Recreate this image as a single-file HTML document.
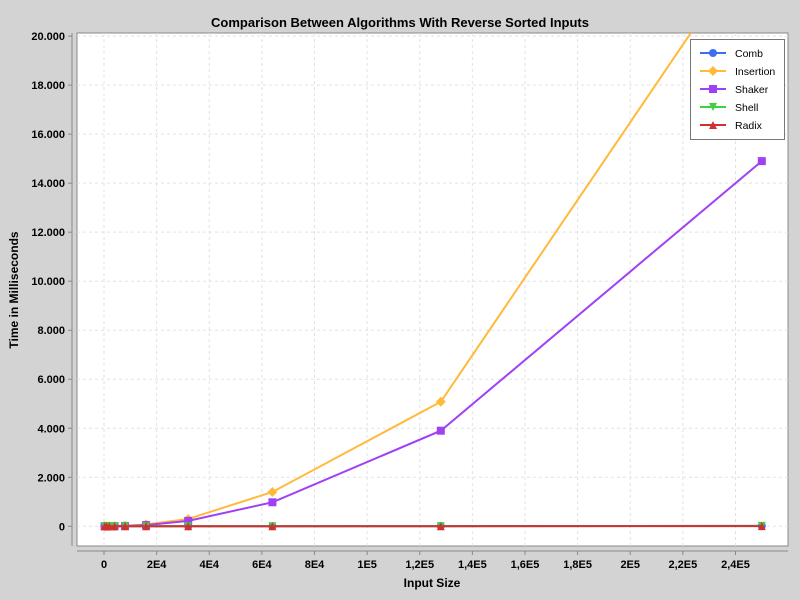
<!DOCTYPE html>
<html><head><meta charset="utf-8"><style>
body{margin:0;background:#d3d3d3;}
svg{display:block;font-family:"Liberation Sans",sans-serif;}
</style></head><body>
<svg id="c" width="800" height="600">
<rect x="0" y="0" width="800" height="600" fill="#d3d3d3"/>
<text x="400" y="27" text-anchor="middle" font-size="13" font-weight="bold">Comparison Between Algorithms With Reverse Sorted Inputs</text>
<rect x="77" y="33" width="711" height="513" fill="#fff" stroke="#888"/>
<defs><clipPath id="clip"><rect x="77" y="33" width="711" height="513"/></clipPath></defs>
<g id="grid"></g>
<g id="axes"></g>
<g id="series" clip-path="url(#clip)"></g>
<text x="432" y="587" text-anchor="middle" font-size="12" font-weight="bold">Input Size</text>
<text transform="translate(18,290) rotate(-90)" text-anchor="middle" font-size="12" font-weight="bold">Time in Milliseconds</text>
<g id="legend"></g>
</svg>
<script>
const xs = [250,1000,2000,4000,8000,16000,32000,64000,128000,250000];
const names = ["Comb","Insertion","Shaker","Shell","Radix"];
const comb = [0,0,0,0,0,1,2,4,8,15];
const insertion = [0,0,0,5,20,80,300,1400,5080,24400];
const shaker = [0,0,0,4,15,50,220,980,3900,14900];
const shell = [0,0,0,0,1,1,2,4,8,15];
const radix = [0,0,0,0,0,1,1,2,4,8];
const xTicks = [0,20000,40000,60000,80000,100000,120000,140000,160000,180000,200000,220000,240000];
const xTickLabels = ["0","2E4","4E4","6E4","8E4","1E5","1,2E5","1,4E5","1,6E5","1,8E5","2E5","2,2E5","2,4E5"];
const yTicks = [0,2000,4000,6000,8000,10000,12000,14000,16000,18000,20000];
const yTickLabels = ["0","2.000","4.000","6.000","8.000","10.000","12.000","14.000","16.000","18.000","20.000"];
const colors = ["#3d6cf5","#ffba3a","#a040f5","#40d040","#d03030"];
const shapes = ["circle","diamond","square","down","up"];
const X = v => 104 + v*0.0026312;
const Y = v => 526.3 - v*0.02451;
const NS="http://www.w3.org/2000/svg";
function mk(tag, attrs, parent){const e=document.createElementNS(NS,tag);for(const k in attrs)e.setAttribute(k,attrs[k]);parent.appendChild(e);return e;}
const grid=document.getElementById('grid'), axes=document.getElementById('axes'), ser=document.getElementById('series'), leg=document.getElementById('legend');
mk('line',{x1:72,y1:33,x2:72,y2:546,stroke:'#888'},axes);
mk('line',{x1:77,y1:551,x2:788,y2:551,stroke:'#888'},axes);
xTicks.forEach((t,i)=>{
  const g=mk('line',{x1:X(t),y1:33,x2:X(t),y2:546,stroke:'#e2e2e2','stroke-dasharray':'3,3'},grid);
  
  
  mk('line',{x1:X(t),y1:551,x2:X(t),y2:555,stroke:'#888'},axes);
  const tx=mk('text',{x:X(t),y:568,'text-anchor':'middle','font-size':'11','font-weight':'bold'},axes);
  tx.textContent=xTickLabels[i];
  
  
});
yTicks.forEach((t,i)=>{
  const g=mk('line',{x1:77,y1:Y(t),x2:788,y2:Y(t),stroke:'#e2e2e2','stroke-dasharray':'3,3'},grid);
  
  
  mk('line',{x1:68,y1:Y(t),x2:72,y2:Y(t),stroke:'#888'},axes);
  const tx=mk('text',{x:65,y:Y(t)+4,'text-anchor':'end','font-size':'11','font-weight':'bold'},axes);
  tx.textContent=yTickLabels[i];
  
  
});
function marker(shape,x,y,col,parent){
  let e;
  if(shape==='circle') e=mk('circle',{cx:x,cy:y,r:4,fill:col},parent);
  else if(shape==='square') e=mk('rect',{x:x-4,y:y-4,width:8,height:8,fill:col},parent);
  else if(shape==='diamond') e=mk('polygon',{points:`${x},${y-5} ${x+5},${y} ${x},${y+5} ${x-5},${y}`,fill:col},parent);
  else if(shape==='down') e=mk('polygon',{points:`${x-4},${y-4} ${x+4},${y-4} ${x},${y+4}`,fill:col},parent);
  else e=mk('polygon',{points:`${x-4},${y+4} ${x+4},${y+4} ${x},${y-4}`,fill:col},parent);
  return e;
}
const data=[comb,insertion,shaker,shell,radix];
data.forEach((arr,si)=>{
  const g=mk('g',{},ser);
  
  
  const pl=mk('polyline',{points:arr.map((v,i)=>X(xs[i])+','+Y(v)).join(' '),fill:'none',stroke:colors[si],'stroke-width':2},g);
  
  
  arr.forEach((v,i)=>{
    const m=marker(shapes[si],X(xs[i]),Y(v),colors[si],g);
    
    
  });
});
mk('rect',{x:690.5,y:39.5,width:94,height:100,fill:'#fff',stroke:'#777'},leg);
names.forEach((n,i)=>{
  const y=53+i*18;
  const g=mk('g',{},leg);
  
  
  mk('line',{x1:700,y1:y,x2:726,y2:y,stroke:colors[i],'stroke-width':2},g);
  marker(shapes[i],713,y,colors[i],g);
  const t=mk('text',{x:735,y:y+4,'font-size':'10.5'},g);
  t.textContent=n;
});
</script>
</body></html>
